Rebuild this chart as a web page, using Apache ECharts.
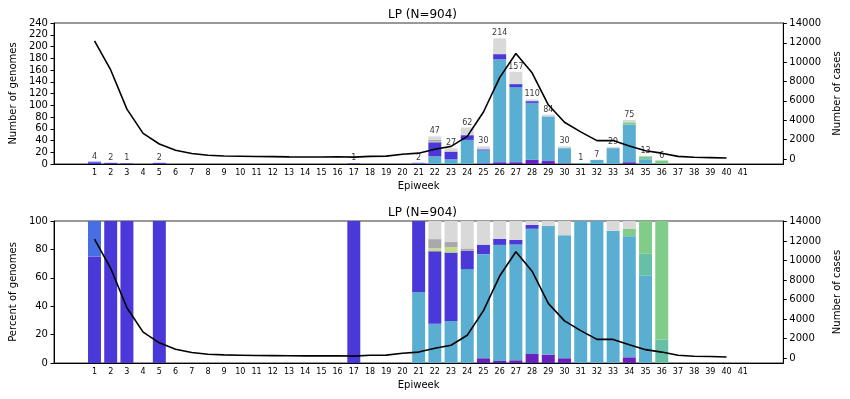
<!DOCTYPE html>
<html>
<head>
<meta charset="utf-8">
<script src="https://cdn.jsdelivr.net/npm/echarts@6/dist/echarts.min.js"></script>
<style>
  html, body { margin: 0; padding: 0; background: #ffffff; }
  #chart { width: 850px; height: 399px; }
</style>
</head>
<body>
<div id="chart"></div>
<script>
// epiweeks shown on the x axis
const epiweeks = [1, 2, 3, 4, 5, 6, 7, 8, 9, 10, 11, 12, 13, 14, 15, 16, 17, 18, 19, 20,
  21, 22, 23, 24, 25, 26, 27, 28, 29, 30, 31, 32, 33, 34, 35, 36, 37, 38, 39, 40, 41]

// genomes per lineage, one value per epiweek (1..41)
const purple      = [0,0,0,0,0, 0,0,0,0,0, 0,0,0,0,0, 0,0,0,0,0, 0,0,0,0,1, 3,3,7,5,1, 0,0,0,3,0, 0,0,0,0,0, 0]
const lightBlue   = [0,0,0,0,0, 0,0,0,0,0, 0,0,0,0,0, 0,0,0,0,0, 1,13,8,41,22, 175,128,97,76,26, 1,7,27,64,8, 0,0,0,0,0, 0]
const teal        = [0,0,0,0,0, 0,0,0,0,0, 0,0,0,0,0, 0,0,0,0,0, 0,0,0,0,0, 0,0,0,0,0, 0,0,0,0,2, 1,0,0,0,0, 0]
const green       = [0,0,0,0,0, 0,0,0,0,0, 0,0,0,0,0, 0,0,0,0,0, 0,0,0,0,0, 0,0,0,0,0, 0,0,0,4,3, 5,0,0,0,0, 0]
const darkBlue    = [3,2,1,0,2, 0,0,0,0,0, 0,0,0,0,0, 0,1,0,0,0, 1,24,13,8,2, 9,5,3,0,0, 0,0,0,0,0, 0,0,0,0,0, 0]
const royalBlue   = [1,0,0,0,0, 0,0,0,0,0, 0,0,0,0,0, 0,0,0,0,0, 0,0,0,0,0, 0,0,0,0,0, 0,0,0,0,0, 0,0,0,0,0, 0]
const yellowGreen = [0,0,0,0,0, 0,0,0,0,0, 0,0,0,0,0, 0,0,0,0,0, 0,1,1,0,0, 0,0,0,0,0, 0,0,0,0,0, 0,0,0,0,0, 0]
const gray        = [0,0,0,0,0, 0,0,0,0,0, 0,0,0,0,0, 0,0,0,0,0, 0,3,1,1,0, 0,0,0,0,0, 0,0,0,0,0, 0,0,0,0,0, 0]
const lightGray   = [0,0,0,0,0, 0,0,0,0,0, 0,0,0,0,0, 0,0,0,0,0, 0,6,4,12,5, 27,21,3,3,3, 0,0,2,4,0, 0,0,0,0,0, 0]

// reported cases per epiweek (1..40)
const cases = [12200, 9200, 5150, 2650, 1550, 900, 560, 380, 310, 280,
  250, 240, 220, 210, 210, 230, 190, 270, 290, 480,
  600, 1000, 1300, 2330, 4850, 8400, 10900, 8900, 5600, 3800,
  2800, 1900, 1900, 1350, 850, 600, 270, 180, 140, 100]

const leftTicks = [0, 20, 40, 60, 80, 100, 120, 140, 160, 180, 200, 220, 240]
const rightTicks = [0, 2000, 4000, 6000, 8000, 10000, 12000, 14000]

const lineages = [
  { name: 'purple', data: purple, color: '#6a1fbf' },
  { name: 'lightBlue', data: lightBlue, color: '#5aaed1' },
  { name: 'teal', data: teal, color: '#66c0a8' },
  { name: 'green', data: green, color: '#80cc88' },
  { name: 'darkBlue', data: darkBlue, color: '#4a38d8' },
  { name: 'royalBlue', data: royalBlue, color: '#476ee2' },
  { name: 'yellowGreen', data: yellowGreen, color: '#c6da8c' },
  { name: 'gray', data: gray, color: '#a9a9a9' },
  { name: 'lightGray', data: lightGray, color: '#d9d9d9' }
]

// two empty slots each side so the axis runs from -1.5 to 43.5
const categories = ['-1', '0'].concat(epiweeks.map(String), ['42', '43'])
const pad = arr => ['-', '-'].concat(arr, new Array(categories.length - 2 - arr.length).fill('-'))

const totals = epiweeks.map((w, i) => lineages.reduce((s, l) => s + l.data[i], 0))
const showIdx = idx => idx >= 2 && idx < 2 + epiweeks.length

const font = 'DejaVu Sans'
const GRID_LEFT = 47
const GRID_W = 741

function xAxisFor(gridIndex) {
  return {
    type: 'category',
    gridIndex: gridIndex,
    data: categories,
    boundaryGap: true,
    name: 'Epiweek',
    nameLocation: 'middle',
    nameGap: 17,
    nameTextStyle: { fontFamily: font, fontSize: 10, color: '#000' },
    axisLine: { lineStyle: { color: '#000', width: 1 } },
    axisTick: { alignWithLabel: true, interval: showIdx, length: 3.5, lineStyle: { color: '#000' } },
    axisLabel: { interval: showIdx, margin: 5, fontFamily: font, fontSize: 8, color: '#000' },
    splitLine: { show: false }
  }
}

function rightAxisFor(gridIndex) {
  return {
    type: 'value',
    gridIndex: gridIndex,
    position: 'right',
    min: -520,
    max: 14050,
    name: 'Number of cases',
    nameLocation: 'middle',
    nameGap: 44,
    nameTextStyle: { fontFamily: font, fontSize: 10, color: '#000' },
    axisLine: { show: true, lineStyle: { color: '#000' } },
    axisTick: { show: true, length: 3.5, customValues: rightTicks, lineStyle: { color: '#000' } },
    axisLabel: { customValues: rightTicks, margin: 6, fontFamily: font, fontSize: 10, color: '#000',
      formatter: v => String(v) },
    splitLine: { show: false }
  }
}

const series = []
lineages.forEach(l => {
  series.push({
    name: l.name, type: 'bar', stack: 'count', xAxisIndex: 0, yAxisIndex: 0,
    barWidth: '80%', itemStyle: { color: l.color }, data: pad(l.data)
  })
  series.push({
    name: l.name + 'Pct', type: 'bar', stack: 'pct', xAxisIndex: 1, yAxisIndex: 2,
    barWidth: '80%', itemStyle: { color: l.color },
    data: pad(l.data.map((v, i) => totals[i] ? v / totals[i] * 100 : 0))
  })
})

// total genome labels on top of the bars
series.push({
  type: 'scatter', xAxisIndex: 0, yAxisIndex: 0, symbolSize: 0, z: 3,
  data: pad(totals.map(t => t > 0 ? t : '-')),
  label: { show: true, position: 'top', distance: 1, fontFamily: font, fontSize: 8, color: '#000',
    formatter: p => p.value }
})

// case curves on the right axes
series.push({
  type: 'line', xAxisIndex: 0, yAxisIndex: 1, data: pad(cases), symbol: 'none', z: 5,
  lineStyle: { color: '#000', width: 1.6 }
})
series.push({
  type: 'line', xAxisIndex: 1, yAxisIndex: 3, data: pad(cases), symbol: 'none', z: 5,
  lineStyle: { color: '#000', width: 1.6 }
})

const option = {
  animation: false,
  backgroundColor: '#ffffff',
  title: [
    { text: 'LP (N=904)', left: GRID_LEFT + GRID_W / 2, top: 4, textAlign: 'center',
      textStyle: { fontFamily: font, fontSize: 12, fontWeight: 'normal', color: '#000' } },
    { text: 'LP (N=904)', left: GRID_LEFT + GRID_W / 2, top: 202, textAlign: 'center',
      textStyle: { fontFamily: font, fontSize: 12, fontWeight: 'normal', color: '#000' } }
  ],
  grid: [
    { left: GRID_LEFT, top: 23, width: GRID_W, height: 141, show: true, borderColor: '#333', borderWidth: 1 },
    { left: GRID_LEFT, top: 221, width: GRID_W, height: 142, show: true, borderColor: '#333', borderWidth: 1 }
  ],
  xAxis: [xAxisFor(0), xAxisFor(1)],
  yAxis: [
    {
      type: 'value', gridIndex: 0, position: 'left', min: 0, max: 240,
      name: 'Number of genomes', nameLocation: 'middle', nameGap: 30,
      nameTextStyle: { fontFamily: font, fontSize: 10, color: '#000' },
      axisLine: { show: true, lineStyle: { color: '#000' } },
      axisTick: { show: true, length: 3.5, customValues: leftTicks, lineStyle: { color: '#000' } },
      axisLabel: { customValues: leftTicks, margin: 6, fontFamily: font, fontSize: 10, color: '#000' },
      splitLine: { show: false }
    },
    rightAxisFor(0),
    {
      type: 'value', gridIndex: 1, position: 'left', min: 0, max: 100, interval: 20,
      name: 'Percent of genomes', nameLocation: 'middle', nameGap: 30,
      nameTextStyle: { fontFamily: font, fontSize: 10, color: '#000' },
      axisLine: { show: true, lineStyle: { color: '#000' } },
      axisTick: { show: true, length: 3.5, lineStyle: { color: '#000' } },
      axisLabel: { margin: 6, fontFamily: font, fontSize: 10, color: '#000' },
      splitLine: { show: false }
    },
    rightAxisFor(1)
  ],
  series: series
}

const chart = echarts.init(document.getElementById('chart'))
chart.setOption(option)
</script>
</body>
</html>
